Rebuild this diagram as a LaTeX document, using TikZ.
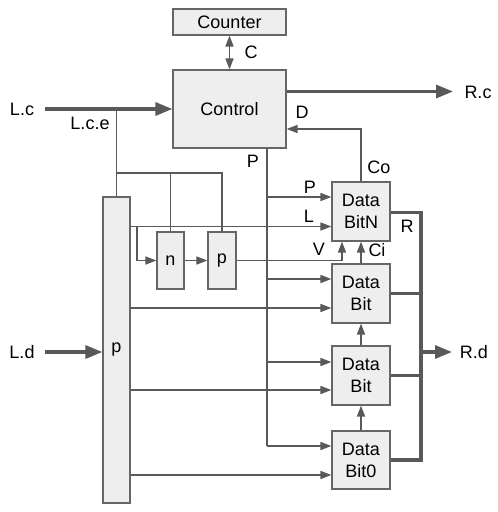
\documentclass[tikz,border=0pt]{standalone}
\usepackage{fontspec}
\setmainfont{Liberation Sans}
\usetikzlibrary{arrows.meta,calc}
\definecolor{boxfill}{HTML}{EEEEEE}
\definecolor{boxline}{HTML}{666666}
\definecolor{wirecol}{HTML}{595959}
\begin{document}
\begin{tikzpicture}[x=1pt,y=-1pt,
  font=\fontsize{18}{22}\selectfont,
  blk/.style={draw=boxline, fill=boxfill, line width=1.2pt, inner sep=0pt, align=center},
  wire/.style={draw=wirecol, line width=1.6pt},
  bus/.style={draw=wirecol, line width=3.2pt},
  pbus/.style={draw=wirecol, line width=2.8pt},
  tip/.style={-{Triangle[length=11pt,width=8pt]}},
  bigtip/.style={-{Triangle[length=17pt,width=13pt]}},
  dbltip/.style={{Triangle[length=11pt,width=8pt]}-{Triangle[length=11pt,width=8pt]}},
  lbl/.style={inner sep=0pt, text=black}]
\useasboundingbox (0,0) rectangle (498,512);
% blocks
\node[blk, minimum width=113pt, minimum height=26pt] (counter) at (229.5,22) {Counter};
\node[blk, minimum width=113pt, minimum height=78pt] (control) at (229.5,109) {Control};
\node[blk, minimum width=58pt, minimum height=59pt] (dbN) at (361,211.5) {Data\\BitN};
\node[blk, minimum width=58pt, minimum height=59pt] (db1) at (361,293.5) {Data\\Bit};
\node[blk, minimum width=58pt, minimum height=59pt] (db2) at (361,375.5) {Data\\Bit};
\node[blk, minimum width=58pt, minimum height=58pt] (db0) at (361,460) {Data\\Bit0};
\node[blk, minimum width=27pt, minimum height=306pt] (pbig) at (116.5,350) {p};
\node[blk, minimum width=27pt, minimum height=57pt] (nbox) at (170.5,260.5) {n};
\node[blk, minimum width=28pt, minimum height=57pt] (pbox) at (222,260.5) {p};
% coordinates
\coordinate (lcs) at (45,109);
\coordinate (lce) at (116.5,109);
\coordinate (ntop) at (116.5,173);
\coordinate (yL) at (0,226.5);
\coordinate (br) at (137,226.5);
\coordinate (vx) at (342,0);
\coordinate (pN) at (267,197);
\coordinate (p1) at (267,279);
\coordinate (p2) at (267,362);
\coordinate (p0) at (267,446);
\coordinate (q1) at (0,308);
\coordinate (q2) at (0,390);
\coordinate (q0) at (0,475);
\coordinate (dturn) at (361,129);
\coordinate (rcy) at (0,91.5);
\coordinate (rcend) at (453,91.5);
\coordinate (rx) at (421,0);
\coordinate (rtop) at (0,212.5);
\coordinate (rdy) at (0,352);
\coordinate (rdend) at (452,352);
\coordinate (lds) at (45,352);
% counter <-> control
\draw[wire, dbltip] (counter) -- (control);
% L.c
\draw[bus, bigtip] (lcs) -- (control.west);
\draw[wire] (lce) -- (pbig.north);
\draw[wire] (ntop) -- (ntop -| pbox.north) -- (pbox.north);
\draw[wire] (ntop -| nbox.north) -- (nbox.north);
% L.d
\draw[bus, bigtip] (lds) -- (pbig.west |- lds);
% L line and n, p chain
\draw[wire, tip] (pbig.east |- yL) -- (dbN.west |- yL);
\draw[wire, tip] (br) |- (nbox.west);
\draw[wire, tip] (nbox.east) -- (pbox.west);
\draw[wire, tip] (pbox.east) -| (vx |- dbN.south);
% carry chain
\draw[wire, tip] (db1.north) -- (dbN.south);
\draw[wire, tip] (db2.north) -- (db1.south);
\draw[wire, tip] (db0.north) -- (db2.south);
% P bus
\draw[wire, tip] (pN) -- (pN -| dbN.west);
\draw[wire, tip] (p1) -- (p1 -| db1.west);
\draw[wire, tip] (p2) -- (p2 -| db2.west);
\draw[wire, tip] (p0) -- (p0 -| db0.west);
\draw[pbus] (control.south -| pN) -- (p0);
% data from big p
\draw[wire, tip] (pbig.east |- q1) -- (db1.west |- q1);
\draw[wire, tip] (pbig.east |- q2) -- (db2.west |- q2);
\draw[wire, tip] (pbig.east |- q0) -- (db0.west |- q0);
% D
\draw[wire, tip] (dbN.north) -- (dturn) -- (control.east |- dturn);
% R.c
\draw[bus, bigtip] (control.east |- rcy) -- (rcend);
% R bus
\draw[bus, line join=miter] (dbN.east |- rtop) -- (rx |- rtop) -- (rx |- db0.east) -- (db0.east);
\draw[bus] (db1.east) -- (rx |- db1.east);
\draw[bus] (db2.east) -- (rx |- db2.east);
\draw[bus, bigtip] (rx |- rdy) -- (rdend);
% labels
\node[lbl] (tlc) at (22,109) {L.c};
\node[lbl] (tlce) at (90,123) {L.c.e};
\node[lbl] (tld) at (22,352) {L.d};
\node[lbl] (tc) at (251,52) {C};
\node[lbl] (tp0) at (253,161) {P};
\node[lbl] (tp1) at (310,187) {P};
\node[lbl] (tl) at (309,216) {L};
\node[lbl] (tv) at (319,249) {V};
\node[lbl] (tci) at (377,250) {Ci};
\node[lbl] (tr) at (407,226) {R};
\node[lbl] (tco) at (379,167) {Co};
\node[lbl] (td) at (302,112) {D};
\node[lbl] (trc) at (478,92) {R.c};
\node[lbl] (trd) at (474,352) {R.d};
\end{tikzpicture}
\end{document}
